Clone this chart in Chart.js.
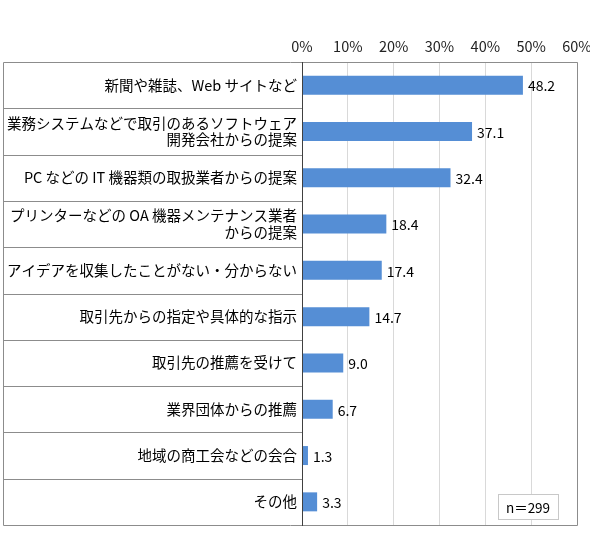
<!DOCTYPE html>
<html>
<head>
<meta charset="utf-8">
<script src="https://cdn.jsdelivr.net/npm/chart.js@4.4.1/dist/chart.umd.min.js"></script>
<style>
html,body{margin:0;padding:0;background:#fff;}
#wrap{width:590px;height:534px;}
</style>
</head>
<body>
<div id="wrap"><canvas id="c" width="590" height="534"></canvas></div>
<script>
const categories = [
  "新聞や雑誌、Web サイトなど",
  ["業務システムなどで取引のあるソフトウェア", "開発会社からの提案"],
  "PC などの IT 機器類の取扱業者からの提案",
  ["プリンターなどの OA 機器メンテナンス業者", "からの提案"],
  "アイデアを収集したことがない・分からない",
  "取引先からの指定や具体的な指示",
  "取引先の推薦を受けて",
  "業界団体からの推薦",
  "地域の商工会などの会合",
  "その他"
];
const values = [48.2, 37.1, 32.4, 18.4, 17.4, 14.7, 9.0, 6.7, 1.3, 3.3];
const xTicks = [0, 10, 20, 30, 40, 50, 60];
const sampleNote = "n＝299";

const FONT = "'Noto Sans CJK JP', 'Noto Sans', sans-serif";

const framePlugin = {
  id: 'frame',
  afterDraw(chart) {
    const ctx = chart.ctx;
    const a = chart.chartArea;
    const ys = chart.scales.y;
    const leftX = 3.5;
    ctx.save();
    ctx.lineWidth = 1;
    ctx.strokeStyle = '#8c8c8c';
    ctx.beginPath();
    ctx.moveTo(leftX, a.top + 0.5);
    ctx.lineTo(a.right + 0.5, a.top + 0.5);
    ctx.lineTo(a.right + 0.5, a.bottom + 0.5);
    ctx.lineTo(leftX, a.bottom + 0.5);
    ctx.closePath();
    ctx.stroke();
    ctx.beginPath();
    for (let i = 0; i < categories.length - 1; i++) {
      const y = Math.round((ys.getPixelForValue(i) + ys.getPixelForValue(i + 1)) / 2) + 0.5;
      ctx.moveTo(leftX, y);
      ctx.lineTo(a.left, y);
    }
    ctx.stroke();
    ctx.strokeStyle = '#404040';
    ctx.beginPath();
    ctx.moveTo(a.left + 0.5, a.top);
    ctx.lineTo(a.left + 0.5, a.bottom + 1);
    ctx.stroke();
    ctx.fillStyle = '#000';
    ctx.font = "14px " + FONT;
    ctx.textBaseline = 'middle';
    ctx.textAlign = 'left';
    const meta = chart.getDatasetMeta(0);
    meta.data.forEach((bar, i) => {
      ctx.fillText(values[i].toFixed(1), bar.x + 5, bar.y + 1);
    });
    const bw = 60, bh = 25;
    const bx = a.right - 19 - bw, by = a.bottom - 6 - bh;
    ctx.fillStyle = '#fff';
    ctx.fillRect(bx, by, bw, bh);
    ctx.strokeStyle = '#c8c8c8';
    ctx.strokeRect(bx + 0.5, by + 0.5, bw, bh);
    ctx.fillStyle = '#000';
    ctx.font = "13.5px " + FONT;
    ctx.textAlign = 'center';
    ctx.fillText(sampleNote, bx + bw / 2, by + bh / 2 + 1);
    ctx.restore();
  }
};

new Chart(document.getElementById('c'), {
  type: 'bar',
  data: {
    labels: categories,
    datasets: [{
      data: values,
      backgroundColor: '#558ed5',
      borderWidth: 0,
      barPercentage: 0.41,
      categoryPercentage: 1.0
    }]
  },
  options: {
    indexAxis: 'y',
    responsive: false,
    animation: false,
    devicePixelRatio: 1,
    layout: { padding: { left: 3, right: 13, top: 0, bottom: 9 } },
    plugins: { legend: { display: false }, tooltip: { enabled: false } },
    scales: {
      x: {
        position: 'top',
        min: 0,
        max: 60,
        afterBuildTicks(scale) { scale.ticks = xTicks.map(v => ({ value: v })); },
        afterFit(scale) { scale.height = 62; scale.paddingLeft = 0; scale.paddingRight = 0; },
        grid: { color: '#d9d9d9', drawTicks: false, lineWidth: 1 },
        border: { display: false },
        ticks: {
          padding: 7,
          color: '#222',
          font: { family: FONT, size: 14.5 },
          callback: v => v + '%'
        }
      },
      y: {
        afterFit(scale) { scale.width = 299; scale.paddingTop = 0; scale.paddingBottom = 0; },
        grid: { display: false, drawTicks: false },
        border: { display: false },
        ticks: {
          padding: 5,
          color: '#000',
          font: { family: FONT, size: 14.5, lineHeight: 1.12 }
        }
      }
    }
  },
  plugins: [framePlugin]
});
</script>
</body>
</html>
